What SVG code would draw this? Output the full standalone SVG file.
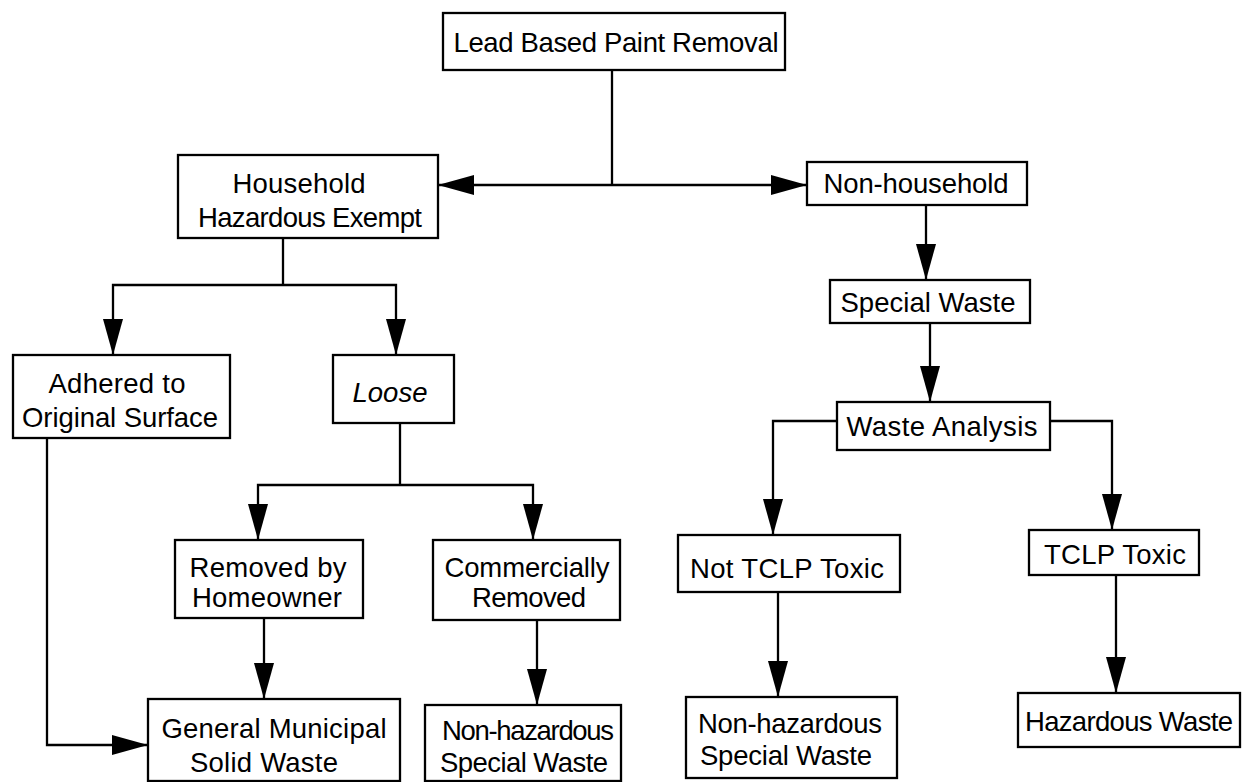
<svg xmlns="http://www.w3.org/2000/svg" width="1245" height="782" viewBox="0 0 1245 782">
<style>
.box{fill:#fff;stroke:#000;stroke-width:2.3}
.t{font-family:"Liberation Sans",Arial,sans-serif;font-size:27.5px;fill:#000;text-anchor:middle;dominant-baseline:central}
.c{fill:none;stroke:#000;stroke-width:2.3}
</style>
<defs>
<marker id="ah" markerUnits="userSpaceOnUse" markerWidth="38" markerHeight="22" refX="36" refY="11" orient="auto">
<path d="M0,1 L36,11 L0,21 z" fill="#000"/>
</marker>
</defs>
<rect width="1245" height="782" fill="#fff"/>
<g id="connectors">
<path class="c" d="M612,70 V185"/>
<path class="c" d="M612,185 H438" marker-end="url(#ah)"/>
<path class="c" d="M612,185 H807" marker-end="url(#ah)"/>
<path class="c" d="M283,238 V285"/>
<path class="c" d="M283,285 H113 V355" marker-end="url(#ah)"/>
<path class="c" d="M283,285 H396 V355" marker-end="url(#ah)"/>
<path class="c" d="M400,423 V485"/>
<path class="c" d="M400,485 H258 V540" marker-end="url(#ah)"/>
<path class="c" d="M400,485 H533 V540" marker-end="url(#ah)"/>
<path class="c" d="M264,618 V699" marker-end="url(#ah)"/>
<path class="c" d="M537,620 V705" marker-end="url(#ah)"/>
<path class="c" d="M47,438 V745 H148" marker-end="url(#ah)"/>
<path class="c" d="M926,205 V280" marker-end="url(#ah)"/>
<path class="c" d="M930,323 V402" marker-end="url(#ah)"/>
<path class="c" d="M837,421 H773 V535" marker-end="url(#ah)"/>
<path class="c" d="M1050,421 H1112 V530" marker-end="url(#ah)"/>
<path class="c" d="M778,592 V697" marker-end="url(#ah)"/>
<path class="c" d="M1116,575 V693" marker-end="url(#ah)"/>
</g>
<g id="root"><rect class="box" x="443" y="13" width="342" height="57"/><text class="t" x="616" y="42" textLength="325">Lead Based Paint Removal</text></g>
<g id="household"><rect class="box" x="178" y="155" width="260" height="83"/><text class="t" x="299" y="183" textLength="133">Household</text><text class="t" x="310" y="217" textLength="224">Hazardous Exempt</text></g>
<g id="nonhousehold"><rect class="box" x="807" y="162" width="220" height="43"/><text class="t" x="916" y="183" textLength="185">Non-household</text></g>
<g id="adhered"><rect class="box" x="13" y="355" width="217" height="83"/><text class="t" x="117" y="383" textLength="137">Adhered to</text><text class="t" x="120" y="417" textLength="196">Original Surface</text></g>
<g id="loose"><rect class="box" x="333" y="355" width="121" height="68"/><text class="t" x="390" y="392" font-style="italic" font-size="30">Loose</text></g>
<g id="homeowner"><rect class="box" x="175" y="540" width="188" height="78"/><text class="t" x="268" y="567" textLength="157">Removed by</text><text class="t" x="267" y="597" textLength="150">Homeowner</text></g>
<g id="commercial"><rect class="box" x="433" y="540" width="187" height="80"/><text class="t" x="527" y="567" textLength="165">Commercially</text><text class="t" x="529" y="597" textLength="114">Removed</text></g>
<g id="municipal"><rect class="box" x="148" y="699" width="252" height="82"/><text class="t" x="274" y="728" textLength="225">General Municipal</text><text class="t" x="264" y="762" textLength="148">Solid Waste</text></g>
<g id="nonhaz1"><rect class="box" x="425" y="705" width="196" height="76"/><text class="t" x="528" y="730" font-size="26" textLength="172">Non-hazardous</text><text class="t" x="524" y="762" font-size="26" textLength="168">Special Waste</text></g>
<g id="special"><rect class="box" x="830" y="280" width="200" height="43"/><text class="t" x="928" y="302" textLength="175">Special Waste</text></g>
<g id="analysis"><rect class="box" x="837" y="402" width="213" height="48"/><text class="t" x="942" y="426" textLength="191">Waste Analysis</text></g>
<g id="nottclp"><rect class="box" x="678" y="535" width="222" height="57"/><text class="t" x="787" y="568" textLength="194">Not TCLP Toxic</text></g>
<g id="tclp"><rect class="box" x="1029" y="530" width="170" height="45"/><text class="t" x="1115" y="554" textLength="142">TCLP Toxic</text></g>
<g id="nonhaz2"><rect class="box" x="686" y="697" width="211" height="81"/><text class="t" x="790" y="723" textLength="184">Non-hazardous</text><text class="t" x="786" y="755" textLength="172">Special Waste</text></g>
<g id="hazardous"><rect class="box" x="1018" y="693" width="222" height="54"/><text class="t" x="1129" y="721" textLength="208">Hazardous Waste</text></g>
</svg>
